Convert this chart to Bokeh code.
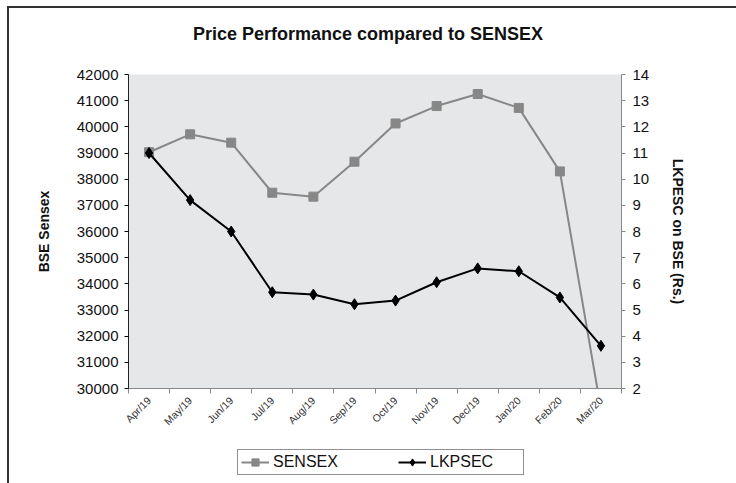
from bokeh.plotting import figure
from bokeh.models import (Range1d, LinearAxis, FixedTicker, Legend, LegendItem, Div)
from bokeh.layouts import column
from bokeh.embed import file_html
from bokeh.resources import INLINE
import math

months = ["Apr/19", "May/19", "Jun/19", "Jul/19", "Aug/19", "Sep/19",
          "Oct/19", "Nov/19", "Dec/19", "Jan/20", "Feb/20", "Mar/20"]
sensex = [39030, 39714, 39395, 37481, 37332, 38667, 40129, 40794, 41254, 40723, 38297, 29200]
lkpsec = [11.0, 9.2, 8.0, 5.68, 5.59, 5.22, 5.36, 6.06, 6.59, 6.48, 5.48, 3.63]
left_ticks = list(range(30000, 42001, 1000))
right_ticks = list(range(2, 15))
title_text = "Price Performance compared to SENSEX"

xs = [i + 0.5 for i in range(len(months))]
FONT = "Liberation Sans"

frame_html = ('<div style="position:absolute;left:7px;top:6px;width:729px;height:477px;'
              'border-left:2px solid #333;border-top:2px solid #333;pointer-events:none;"></div>')
title_div = Div(text=frame_html + '<div style="width:736px;padding-top:24px;text-align:center;'
                'font-family:\'Liberation Sans\';font-weight:bold;font-size:18px;'
                'line-height:20px;color:#111;">' + title_text + '</div>',
                width=736, height=48, margin=0)

p = figure(width=736, height=392, output_backend="svg", toolbar_location=None,
           x_range=Range1d(0, len(months)), y_range=Range1d(30000, 42000),
           min_border_left=128, min_border_right=115, min_border_top=26, min_border_bottom=52)
p.background_fill_color = "#e6e7e9"
p.border_fill_alpha = 0
p.outline_line_color = None
p.xgrid.visible = False
p.ygrid.visible = False

# x axis
xa = p.xaxis[0]
xa.ticker = FixedTicker(ticks=xs, minor_ticks=list(range(0, len(months) + 1)))
xa.major_label_overrides = {x: m for x, m in zip(xs, months)}
xa.major_label_orientation = math.pi / 4
xa.major_label_text_font = FONT
xa.major_label_text_font_size = "10.5px"
xa.major_label_text_color = "#333333"
xa.major_tick_line_color = None
xa.minor_tick_in = 0
xa.minor_tick_out = 5
xa.minor_tick_line_color = "#888888"
xa.axis_line_color = "#888888"
xa.major_label_standoff = 4

# left axis
ya = p.yaxis[0]
ya.ticker = FixedTicker(ticks=left_ticks)
ya.axis_label = "BSE Sensex"
ya.axis_label_text_font = FONT
ya.axis_label_text_font_size = "14px"
ya.axis_label_text_font_style = "bold"
ya.axis_label_text_color = "#111111"
ya.axis_label_standoff = 22
ya.major_label_text_font = FONT
ya.major_label_text_font_size = "15px"
ya.major_label_text_color = "#111111"
ya.major_tick_in = 0
ya.major_tick_out = 4
ya.minor_tick_line_color = None
ya.axis_line_color = "#222222"
ya.major_label_standoff = 6

# right axis
p.extra_y_ranges = {"r": Range1d(2, 14)}
ra = LinearAxis(y_range_name="r", ticker=FixedTicker(ticks=right_ticks))
ra.axis_label = "LKPESC on BSE (Rs.)"
ra.axis_label_text_font = FONT
ra.axis_label_text_font_size = "14px"
ra.axis_label_text_font_style = "bold"
ra.axis_label_text_color = "#111111"
ra.axis_label_standoff = 18
ra.major_label_text_font = FONT
ra.major_label_text_font_size = "15px"
ra.major_label_text_color = "#111111"
ra.major_tick_in = 0
ra.major_tick_out = 4
ra.major_tick_line_color = "#888888"
ra.minor_tick_line_color = None
ra.axis_line_color = "#888888"
ra.major_label_standoff = 7
p.add_layout(ra, "right")

# series
SENSEX_STYLE = dict(line_color="#878787", line_width=2)
LKP_STYLE = dict(line_color="black", line_width=2)
p.line(xs, sensex, **SENSEX_STYLE)
p.scatter(xs, sensex, marker="square", size=9, fill_color="#878787", line_color="#878787")
p.line(xs, lkpsec, y_range_name="r", **LKP_STYLE)
p.scatter(xs, lkpsec, marker="diamond", size=11, fill_color="black", line_color="black",
          y_range_name="r")

# legend strip (separate figure so the legend sits below the axis labels);
# its series lie outside its ranges, so only the legend itself is visible
lf = figure(width=736, height=40, output_backend="svg", toolbar_location=None,
            x_range=Range1d(-1000, -999), y_range=Range1d(-1000, -999), min_border=0,
            x_axis_location=None, y_axis_location=None)
lf.outline_line_color = None
lf.border_fill_alpha = 0
lf.background_fill_alpha = 0
lf.xgrid.visible = False
lf.ygrid.visible = False
ls1 = lf.line(xs, sensex, **SENSEX_STYLE)
ls2 = lf.scatter(xs, sensex, marker="square", size=6, fill_color="#878787", line_color="#878787")
ll1 = lf.line(xs, lkpsec, **LKP_STYLE)
ll2 = lf.scatter(xs, lkpsec, marker="diamond", size=7, fill_color="black", line_color="black")
legend = Legend(items=[LegendItem(label="SENSEX", renderers=[ls1, ls2]),
                       LegendItem(label="LKPSEC", renderers=[ll1, ll2])],
                orientation="horizontal", location=(109, 5),
                label_text_font=FONT, label_text_font_size="16px", label_text_color="#111111",
                glyph_width=28, glyph_height=18, label_height=18, label_width=90,
                spacing=35, padding=3, margin=0,
                label_standoff=4, border_line_color="#222222", border_line_width=1,
                background_fill_color="white")
lf.add_layout(legend, "center")

layout = column(title_div, p, lf, spacing=0)
open("out.html", "w").write(file_html(layout, INLINE))
